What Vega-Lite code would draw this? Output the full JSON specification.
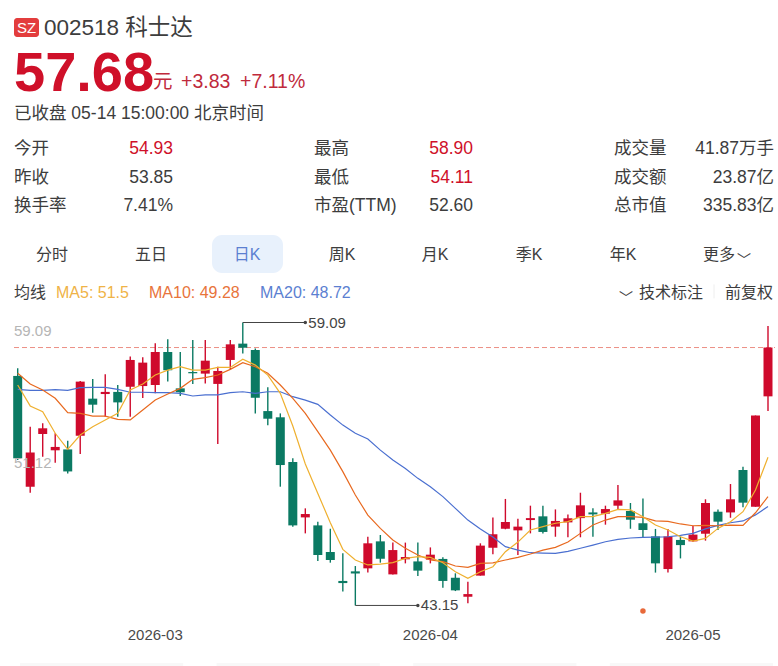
{
  "$schema": "https://vega.github.io/schema/vega-lite/v6.json",
  "padding": 0,
  "spacing": 0,
  "bounds": "flush",
  "background": "white",
  "config": {
    "view": {"stroke": null},
    "text": {"font": "Liberation Sans, Noto Sans CJK SC", "baseline": "middle", "dy": 1},
    "axis": {"labelFont": "Liberation Sans"}
  },
  "datasets": {
    "candles": [
      {"date":"2026-02-05","open":56.08,"close":51.44,"high":56.51,"low":51.34,"ma5":55.57,"ma10":56.23,"ma20":55.32},
      {"date":"2026-02-06","open":49.84,"close":51.76,"high":53.22,"low":49.50,"ma5":54.39,"ma10":55.63,"ma20":55.27},
      {"date":"2026-02-09","open":52.81,"close":53.13,"high":53.41,"low":51.53,"ma5":54.07,"ma10":55.29,"ma20":55.27},
      {"date":"2026-02-10","open":51.89,"close":52.08,"high":52.85,"low":51.19,"ma5":52.85,"ma10":54.82,"ma20":55.31},
      {"date":"2026-02-11","open":51.94,"close":50.70,"high":52.43,"low":50.59,"ma5":51.94,"ma10":54.01,"ma20":55.27},
      {"date":"2026-02-12","open":52.71,"close":55.76,"high":55.79,"low":51.68,"ma5":52.75,"ma10":53.97,"ma20":55.42},
      {"date":"2026-02-13","open":54.80,"close":54.46,"high":55.91,"low":54.01,"ma5":53.22,"ma10":53.82,"ma20":55.44},
      {"date":"2026-02-24","open":55.06,"close":55.18,"high":56.17,"low":53.78,"ma5":53.60,"ma10":53.82,"ma20":55.44},
      {"date":"2026-02-25","open":55.18,"close":54.59,"high":55.57,"low":53.78,"ma5":53.97,"ma10":53.63,"ma20":55.32},
      {"date":"2026-02-26","open":55.47,"close":56.98,"high":57.17,"low":53.78,"ma5":55.29,"ma10":53.60,"ma20":55.16},
      {"date":"2026-02-27","open":55.51,"close":56.83,"high":57.13,"low":54.84,"ma5":55.63,"ma10":54.16,"ma20":55.16},
      {"date":"2026-03-02","open":55.57,"close":57.43,"high":57.92,"low":55.10,"ma5":56.13,"ma10":54.72,"ma20":55.14},
      {"date":"2026-03-03","open":57.43,"close":56.40,"high":58.14,"low":55.76,"ma5":56.41,"ma10":55.06,"ma20":55.14},
      {"date":"2026-03-04","open":55.38,"close":55.16,"high":57.43,"low":54.95,"ma5":56.60,"ma10":55.38,"ma20":55.10},
      {"date":"2026-03-05","open":56.30,"close":56.23,"high":58.10,"low":55.63,"ma5":56.41,"ma10":55.89,"ma20":54.95},
      {"date":"2026-03-06","open":56.21,"close":56.94,"high":58.10,"low":55.66,"ma5":56.41,"ma10":55.98,"ma20":55.01},
      {"date":"2026-03-09","open":55.63,"close":56.36,"high":56.60,"low":52.24,"ma5":56.56,"ma10":56.13,"ma20":55.01},
      {"date":"2026-03-10","open":56.98,"close":57.86,"high":58.10,"low":56.45,"ma5":56.56,"ma10":56.45,"ma20":55.14},
      {"date":"2026-03-11","open":57.90,"close":57.67,"high":59.09,"low":57.35,"ma5":57.02,"ma10":56.83,"ma20":55.19},
      {"date":"2026-03-12","open":57.54,"close":54.85,"high":57.63,"low":53.97,"ma5":56.69,"ma10":56.60,"ma20":55.10},
      {"date":"2026-03-13","open":54.10,"close":53.67,"high":55.44,"low":53.30,"ma5":56.13,"ma10":56.23,"ma20":55.19},
      {"date":"2026-03-16","open":53.75,"close":51.06,"high":53.97,"low":49.84,"ma5":55.10,"ma10":55.57,"ma20":55.19},
      {"date":"2026-03-17","open":51.23,"close":47.66,"high":51.44,"low":47.59,"ma5":53.26,"ma10":54.82,"ma20":54.91},
      {"date":"2026-03-18","open":48.11,"close":48.30,"high":48.62,"low":47.21,"ma5":51.12,"ma10":53.97,"ma20":54.72},
      {"date":"2026-03-19","open":47.66,"close":45.99,"high":47.87,"low":45.65,"ma5":49.46,"ma10":52.94,"ma20":54.48},
      {"date":"2026-03-20","open":46.16,"close":45.71,"high":47.47,"low":45.56,"ma5":47.81,"ma10":51.90,"ma20":53.88},
      {"date":"2026-03-23","open":44.53,"close":44.41,"high":46.09,"low":43.93,"ma5":46.31,"ma10":50.69,"ma20":53.31},
      {"date":"2026-03-24","open":45.07,"close":44.95,"high":45.37,"low":43.15,"ma5":45.71,"ma10":49.37,"ma20":52.85},
      {"date":"2026-03-25","open":45.24,"close":46.65,"high":47.02,"low":45.01,"ma5":45.43,"ma10":48.24,"ma20":52.53},
      {"date":"2026-03-26","open":46.76,"close":45.78,"high":47.12,"low":45.56,"ma5":45.48,"ma10":47.49,"ma20":51.90},
      {"date":"2026-03-27","open":44.90,"close":46.27,"high":46.69,"low":44.90,"ma5":45.56,"ma10":46.84,"ma20":51.34},
      {"date":"2026-03-30","open":45.75,"close":45.88,"high":46.69,"low":45.52,"ma5":45.80,"ma10":46.37,"ma20":50.87},
      {"date":"2026-03-31","open":45.63,"close":45.11,"high":46.69,"low":44.81,"ma5":45.90,"ma10":45.99,"ma20":50.31},
      {"date":"2026-04-01","open":45.73,"close":46.01,"high":46.42,"low":45.52,"ma5":45.86,"ma10":45.71,"ma20":49.84},
      {"date":"2026-04-02","open":45.77,"close":44.53,"high":45.86,"low":44.15,"ma5":45.56,"ma10":45.62,"ma20":49.28},
      {"date":"2026-04-03","open":44.71,"close":44.00,"high":44.96,"low":43.96,"ma5":45.05,"ma10":45.37,"ma20":48.62},
      {"date":"2026-04-07","open":43.64,"close":43.79,"high":44.49,"low":43.27,"ma5":44.68,"ma10":45.30,"ma20":47.96},
      {"date":"2026-04-08","open":44.83,"close":46.52,"high":46.65,"low":44.83,"ma5":45.05,"ma10":45.52,"ma20":47.46},
      {"date":"2026-04-09","open":46.40,"close":47.16,"high":48.11,"low":46.03,"ma5":45.33,"ma10":45.55,"ma20":47.00},
      {"date":"2026-04-10","open":47.47,"close":47.85,"high":49.15,"low":47.44,"ma5":46.18,"ma10":45.71,"ma20":46.46},
      {"date":"2026-04-13","open":47.38,"close":47.59,"high":48.04,"low":45.99,"ma5":46.72,"ma10":45.86,"ma20":46.27},
      {"date":"2026-04-14","open":47.96,"close":48.07,"high":48.77,"low":47.21,"ma5":47.40,"ma10":46.05,"ma20":46.12},
      {"date":"2026-04-15","open":48.17,"close":47.29,"high":48.77,"low":47.21,"ma5":47.59,"ma10":46.27,"ma20":46.10},
      {"date":"2026-04-16","open":47.59,"close":47.91,"high":48.56,"low":47.02,"ma5":47.78,"ma10":46.42,"ma20":46.08},
      {"date":"2026-04-17","open":47.83,"close":48.06,"high":48.28,"low":46.99,"ma5":47.87,"ma10":46.72,"ma20":46.20},
      {"date":"2026-04-20","open":48.07,"close":48.79,"high":49.50,"low":46.99,"ma5":48.15,"ma10":47.21,"ma20":46.37},
      {"date":"2026-04-21","open":48.39,"close":48.28,"high":48.62,"low":47.02,"ma5":48.15,"ma10":47.68,"ma20":46.55},
      {"date":"2026-04-22","open":48.32,"close":48.58,"high":48.77,"low":47.70,"ma5":48.34,"ma10":47.96,"ma20":46.74},
      {"date":"2026-04-23","open":48.77,"close":49.07,"high":49.93,"low":48.56,"ma5":48.56,"ma10":48.15,"ma20":46.87},
      {"date":"2026-04-24","open":48.47,"close":47.98,"high":48.92,"low":47.47,"ma5":48.53,"ma10":48.15,"ma20":46.95},
      {"date":"2026-04-27","open":47.78,"close":47.40,"high":49.18,"low":46.99,"ma5":48.15,"ma10":48.11,"ma20":46.99},
      {"date":"2026-04-28","open":47.04,"close":45.52,"high":47.46,"low":45.00,"ma5":47.68,"ma10":47.91,"ma20":47.00},
      {"date":"2026-04-29","open":45.20,"close":47.04,"high":47.46,"low":45.01,"ma5":47.40,"ma10":47.89,"ma20":47.02},
      {"date":"2026-04-30","open":46.84,"close":46.55,"high":47.02,"low":45.80,"ma5":47.02,"ma10":47.74,"ma20":47.10},
      {"date":"2026-05-06","open":46.76,"close":47.14,"high":47.64,"low":46.74,"ma5":46.78,"ma10":47.64,"ma20":47.21},
      {"date":"2026-05-07","open":47.19,"close":48.92,"high":49.13,"low":46.80,"ma5":46.93,"ma10":47.66,"ma20":47.46},
      {"date":"2026-05-08","open":48.43,"close":47.87,"high":48.56,"low":47.40,"ma5":47.49,"ma10":47.64,"ma20":47.66},
      {"date":"2026-05-11","open":48.39,"close":49.13,"high":49.99,"low":48.09,"ma5":47.87,"ma10":47.68,"ma20":47.81},
      {"date":"2026-05-12","open":50.78,"close":48.94,"high":50.97,"low":48.68,"ma5":48.43,"ma10":47.66,"ma20":47.91},
      {"date":"2026-05-13","open":48.71,"close":53.85,"high":53.85,"low":48.71,"ma5":49.65,"ma10":48.37,"ma20":48.25},
      {"date":"2026-05-14","open":54.93,"close":57.68,"high":58.90,"low":54.11,"ma5":51.50,"ma10":49.28,"ma20":48.72}
    ],
    "extremes": [
      {"from":"2026-03-11","to":"2026-03-18","price":59.09,"label":"59.09"},
      {"from":"2026-03-24","to":"2026-03-31","price":43.15,"label":"43.15"}
    ],
    "scaleLabels": [
      {"date":"2026-02-05","price":59.09,"label":"59.09","pos":"top"},
      {"date":"2026-02-05","price":51.12,"label":"51.12","pos":"mid"}
    ],
    "head": [
      {"kind":"title","text":"002518 科士达","slot":4,"row":1,"tone":"ink"},
      {"kind":"price","text":"57.68","slot":1,"row":2,"tone":"up"},
      {"kind":"change","text":"元","slot":9,"row":2.2,"tone":"upSoft"},
      {"kind":"change","text":"+3.83","slot":11,"row":2.2,"tone":"upSoft"},
      {"kind":"change","text":"+7.11%","slot":13,"row":2.2,"tone":"upSoft"},
      {"kind":"body","text":"已收盘 05-14 15:00:00 北京时间","slot":1,"row":3,"tone":"ink"},
      {"kind":"body","text":"今开","slot":1,"row":4,"tone":"ink"},
      {"kind":"body","text":"昨收","slot":1,"row":5,"tone":"ink"},
      {"kind":"body","text":"换手率","slot":1,"row":6,"tone":"ink"},
      {"kind":"body","text":"最高","slot":17,"row":4,"tone":"ink"},
      {"kind":"body","text":"最低","slot":17,"row":5,"tone":"ink"},
      {"kind":"body","text":"市盈(TTM)","slot":17,"row":6,"tone":"ink"},
      {"kind":"body","text":"成交量","slot":22,"row":4,"tone":"ink"},
      {"kind":"body","text":"成交额","slot":22,"row":5,"tone":"ink"},
      {"kind":"body","text":"总市值","slot":22,"row":6,"tone":"ink"},
      {"kind":"legend","text":"均线","slot":1,"row":8,"tone":"ink"},
      {"kind":"legend","text":"MA5: 51.5","slot":6,"row":8,"tone":"ma5"},
      {"kind":"legend","text":"MA10: 49.28","slot":7,"row":8,"tone":"ma10"},
      {"kind":"legend","text":"MA20: 48.72","slot":15,"row":8,"tone":"ma20"},
      {"kind":"legend","text":"技术标注","slot":25,"row":8,"tone":"ink"},
      {"kind":"legend","text":"前复权","slot":27,"row":8,"tone":"ink"}
    ],
    "stats": [
      {"text":"54.93","slot":10,"row":4,"tone":"up"},
      {"text":"53.85","slot":10,"row":5,"tone":"ink"},
      {"text":"7.41%","slot":10,"row":6,"tone":"ink"},
      {"text":"58.90","slot":20,"row":4,"tone":"up"},
      {"text":"54.11","slot":20,"row":5,"tone":"up"},
      {"text":"52.60","slot":20,"row":6,"tone":"ink"},
      {"text":"41.87万手","slot":29,"row":4,"tone":"ink"},
      {"text":"23.87亿","slot":29,"row":5,"tone":"ink"},
      {"text":"335.83亿","slot":29,"row":6,"tone":"ink"}
    ],
    "tabs": [
      {"text":"分时","slot":5,"row":7,"tone":"ink"},
      {"text":"五日","slot":8,"row":7,"tone":"ink"},
      {"text":"日K","slot":14,"row":7,"tone":"ma20"},
      {"text":"周K","slot":18,"row":7,"tone":"ink"},
      {"text":"月K","slot":19,"row":7,"tone":"ink"},
      {"text":"季K","slot":21,"row":7,"tone":"ink"},
      {"text":"年K","slot":23,"row":7,"tone":"ink"},
      {"text":"更多","slot":28,"row":7,"tone":"ink"}
    ],
    "glyphs": [
      {"text":"﹀","slot":24,"row":8,"tone":"ink"},
      {"text":"﹀","slot":28.5,"row":7,"tone":"ink"}
    ],
    "footer": [
      {"card":"a","start":0,"end":1},
      {"card":"b","start":0,"end":1},
      {"card":"c","start":0,"end":1},
      {"card":"d","start":0,"end":1}
    ]
  },
  "vconcat": [
    {
      "width": 778,
      "height": 300,
      "encoding": {
        "x": {
          "field": "slot",
          "type": "quantitative",
          "axis": null,
          "scale": {
            "domain": [1,2,3,4,5,6,7,8,9,10,11,12,13,14,15,16,17,18,19,20,21,22,23,24,25,26,27,28,28.5,29],
            "range": [14,26.5,39,44,52,56,149,151,153,173,181,212,240,247,260,283,314,342,435,473,529,614,623,619,639,714,725,719,737,774]
          }
        },
        "y": {
          "field": "row",
          "type": "quantitative",
          "axis": null,
          "scale": {
            "domain": [0.5,1,1.5,2,3,4,5,6,6.5,7,7.5,8,8.5],
            "range": [18,27,37,73,113,148,177,205,235,254,273,292,300]
          }
        },
        "color": {
          "field": "tone",
          "type": "nominal",
          "legend": null,
          "scale": {
            "domain": ["ink","up","upSoft","ma5","ma10","ma20"],
            "range": ["#3d3d3d","#cf1029","#c02a3c","#efb347","#e8743b","#5b7fd1"]
          }
        }
      },
      "layer": [
        {
          "data": {"values": [{"slot":12,"slotEnd":16,"row":6.5,"rowEnd":7.5}]},
          "mark": {"type":"rect","fill":"#e8f1fc","cornerRadius":10},
          "encoding": {"x2":{"field":"slotEnd"},"y2":{"field":"rowEnd"},"color":{"value":"#e8f1fc"}}
        },
        {
          "data": {"values": [{"slot":1,"slotEnd":3,"row":0.5,"rowEnd":1.5}]},
          "mark": {"type":"rect","cornerRadius":3},
          "encoding": {"x2":{"field":"slotEnd"},"y2":{"field":"rowEnd"},"color":{"value":"#e33d3d"}}
        },
        {
          "data": {"values": [{"text":"SZ","slot":2,"row":1}]},
          "mark": {"type":"text","fontSize":15,"align":"center"},
          "encoding": {"text":{"field":"text"},"color":{"value":"white"}}
        },
        {
          "data": {"values": [{"slot":26,"row":7.8,"rowEnd":8.4}]},
          "mark": {"type":"rule","strokeWidth":1},
          "encoding": {"y2":{"field":"rowEnd"},"color":{"value":"#eeeeee"}}
        },
        {
          "data": {"name":"head"},
          "transform": [{"filter":"datum.kind == 'title'"}],
          "mark": {"type":"text","fontSize":22.5,"align":"left"},
          "encoding": {"text":{"field":"text"}}
        },
        {
          "data": {"name":"head"},
          "transform": [{"filter":"datum.kind == 'price'"}],
          "mark": {"type":"text","fontSize":56,"fontWeight":"bold","align":"left"},
          "encoding": {"text":{"field":"text"}}
        },
        {
          "data": {"name":"head"},
          "transform": [{"filter":"datum.kind == 'change'"}],
          "mark": {"type":"text","fontSize":19.5,"align":"left"},
          "encoding": {"text":{"field":"text"}}
        },
        {
          "data": {"name":"head"},
          "transform": [{"filter":"datum.kind == 'body'"}],
          "mark": {"type":"text","fontSize":17.5,"align":"left"},
          "encoding": {"text":{"field":"text"}}
        },
        {
          "data": {"name":"head"},
          "transform": [{"filter":"datum.kind == 'legend'"}],
          "mark": {"type":"text","fontSize":16,"align":"left"},
          "encoding": {"text":{"field":"text"}}
        },
        {
          "data": {"name":"stats"},
          "mark": {"type":"text","fontSize":17.5,"align":"right"},
          "encoding": {"text":{"field":"text"}}
        },
        {
          "data": {"name":"tabs"},
          "mark": {"type":"text","fontSize":16,"align":"center"},
          "encoding": {"text":{"field":"text"}}
        },
        {
          "data": {"name":"glyphs"},
          "mark": {"type":"text","fontSize":14,"align":"left","dy":7},
          "encoding": {"text":{"field":"text"}}
        }
      ]
    },
    {
      "width": 778,
      "height": 322,
      "encoding": {
        "x": {
          "field": "date",
          "type": "nominal",
          "title": null,
          "scale": {"type":"band","range":[11.45,774.25],"paddingInner":0,"paddingOuter":0},
          "axis": {
            "values": ["2026-03-02","2026-04-01","2026-05-06"],
            "labelExpr": "slice(datum.value, 0, 7)",
            "labelAngle": 0,
            "labelFontSize": 15,
            "labelColor": "#4a4a4a",
            "labelPadding": 5,
            "ticks": false,
            "domain": false,
            "grid": false
          }
        }
      },
      "layer": [
        {
          "data": {"name":"candles"},
          "mark": {"type":"rule","color":"#ec8f85","strokeDash":[5,3],"strokeWidth":1,"xOffset":-3.7,"x2Offset":7},
          "transform": [{"filter":"datum.date == '2026-05-14'"}],
          "encoding": {
            "x": {"datum":"2026-02-05"},
            "x2": {"datum":"2026-05-14"},
            "y": {"field":"close","type":"quantitative","axis":null,"scale":{"domain":[42.217,60.358],"nice":false,"zero":false}}
          }
        },
        {
          "data": {"name":"candles"},
          "mark": {"type":"rule","strokeWidth":1.4},
          "encoding": {
            "y": {"field":"low","type":"quantitative"},
            "y2": {"field":"high"},
            "color": {"condition":{"test":"datum.close >= datum.open","value":"#cf0a2c"},"value":"#0b7a63"}
          }
        },
        {
          "data": {"name":"candles"},
          "mark": {"type":"bar","size":9},
          "encoding": {
            "y": {"field":"open","type":"quantitative"},
            "y2": {"field":"close"},
            "color": {"condition":{"test":"datum.close >= datum.open","value":"#cf0a2c"},"value":"#0b7a63"}
          }
        },
        {
          "data": {"name":"candles"},
          "mark": {"type":"line","stroke":"#4a6fd0","strokeWidth":1.2},
          "encoding": {"y":{"field":"ma20","type":"quantitative"}}
        },
        {
          "data": {"name":"candles"},
          "mark": {"type":"line","stroke":"#e8691f","strokeWidth":1.2},
          "encoding": {"y":{"field":"ma10","type":"quantitative"}}
        },
        {
          "data": {"name":"candles"},
          "mark": {"type":"line","stroke":"#efb02f","strokeWidth":1.2},
          "encoding": {"y":{"field":"ma5","type":"quantitative"}}
        },
        {
          "data": {"name":"extremes"},
          "mark": {"type":"rule","stroke":"#444444","strokeWidth":1},
          "encoding": {
            "x": {"field":"from"},
            "x2": {"field":"to"},
            "y": {"field":"price","type":"quantitative"}
          }
        },
        {
          "data": {"name":"extremes"},
          "mark": {"type":"point","filled":true,"size":12,"color":"#444444","opacity":1},
          "encoding": {
            "x": {"field":"to"},
            "y": {"field":"price","type":"quantitative"}
          }
        },
        {
          "data": {"name":"extremes"},
          "mark": {"type":"text","fontSize":15,"align":"left","dx":3,"dy":0,"color":"#444444"},
          "encoding": {
            "x": {"field":"to"},
            "y": {"field":"price","type":"quantitative"},
            "text": {"field":"label"}
          }
        },
        {
          "data": {"values":[{"date":"2026-04-27","price":42.84}]},
          "mark": {"type":"point","filled":true,"size":30,"color":"#e8693a","opacity":1},
          "encoding": {"y":{"field":"price","type":"quantitative"}}
        },
        {
          "data": {"name":"scaleLabels"},
          "transform": [{"filter":"datum.pos == 'top'"}],
          "mark": {"type":"text","fontSize":15,"align":"left","dx":-3.7,"dy":8,"color":"#b5b5b5"},
          "encoding": {"y":{"field":"price","type":"quantitative"},"text":{"field":"label"}}
        },
        {
          "data": {"name":"scaleLabels"},
          "transform": [{"filter":"datum.pos == 'mid'"}],
          "mark": {"type":"text","fontSize":15,"align":"left","dx":-3.7,"dy":-1,"color":"#b5b5b5"},
          "encoding": {"y":{"field":"price","type":"quantitative"},"text":{"field":"label"}}
        }
      ]
    },
    {
      "width": 778,
      "height": 44,
      "data": {"name":"footer"},
      "mark": {"type":"rect","color":"#f8f8f8"},
      "encoding": {
        "x": {"field":"card","type":"nominal","axis":null,"scale":{"type":"band","range":[20,773],"paddingInner":0.17,"paddingOuter":0}},
        "y": {"field":"start","type":"quantitative","axis":null,"scale":{"domain":[0,15],"nice":false}},
        "y2": {"field":"end"}
      }
    }
  ]
}
